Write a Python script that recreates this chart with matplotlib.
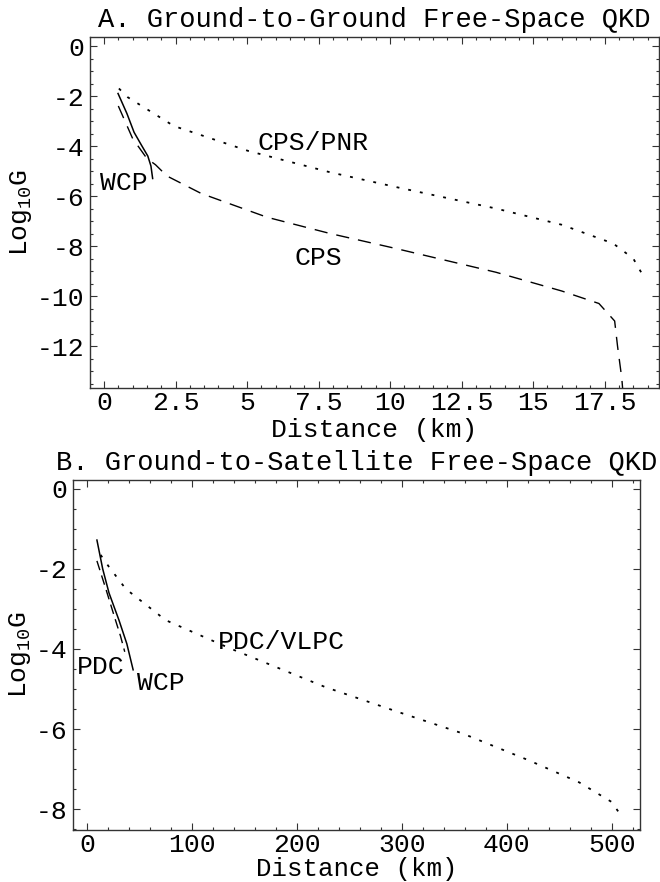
import matplotlib
matplotlib.use("Agg")
import matplotlib.pyplot as plt
from matplotlib.ticker import MultipleLocator

plt.rcParams['font.family'] = ['Liberation Mono', 'DejaVu Sans']
plt.rcParams['mathtext.fontset'] = 'custom'
plt.rcParams['mathtext.rm'] = 'Liberation Mono'
plt.rcParams['mathtext.it'] = 'Liberation Mono:italic'
plt.rcParams['axes.unicode_minus'] = False

# panel A: ground-to-ground (km, log10 G)
a_wcp_x = [0.49, 0.8, 1.05, 1.3, 1.53, 1.64, 1.7]
a_wcp_y = [-1.9, -2.7, -3.45, -3.95, -4.4, -4.8, -5.3]
a_cps_x = [0.5, 1.0, 1.5, 1.8, 2.2, 3.4, 5.7, 7.9, 10.2, 13.7, 16.0, 17.3, 17.85, 17.95, 18.1, 18.15]
a_cps_y = [-2.4, -3.7, -4.5, -4.75, -5.2, -5.9, -6.85, -7.5, -8.1, -9.05, -9.8, -10.3, -11.0, -12.0, -13.3, -14.0]
a_pnr_x = [0.52, 0.83, 2.44, 5.05, 7.9, 10.24, 13.7, 16.0, 17.8, 18.5, 18.8]
a_pnr_y = [-1.7, -2.05, -3.2, -4.2, -5.05, -5.65, -6.5, -7.15, -7.9, -8.5, -9.1]

# panel B: ground-to-satellite (km, log10 G)
b_wcp_x = [9.5, 15, 21, 30.5, 38, 44]
b_wcp_y = [-1.28, -2.0, -2.6, -3.28, -3.87, -4.52]
b_pdc_x = [9.5, 18, 26, 32, 36]
b_pdc_y = [-1.8, -2.5, -3.18, -3.68, -4.07]
b_vlpc_x = [13, 21, 37, 75, 135, 227, 294, 357, 421, 469, 500, 510]
b_vlpc_y = [-1.65, -1.95, -2.5, -3.28, -3.97, -4.95, -5.55, -6.1, -6.78, -7.33, -7.82, -8.2]

FS = 19
dashed = (0, (9.5, 6.5))
dotted = (0, (1.6, 5.0))

fig = plt.figure(figsize=(6.6, 8.82), dpi=100)


def style(ax, xmaj, xmin, ymaj, ymin):
    ax.xaxis.set_major_locator(MultipleLocator(xmaj))
    ax.xaxis.set_minor_locator(MultipleLocator(xmin))
    ax.yaxis.set_major_locator(MultipleLocator(ymaj))
    ax.yaxis.set_minor_locator(MultipleLocator(ymin))
    ax.tick_params(which="both", direction="in", top=True, right=True,
                   labelsize=FS, color="#333333", width=0.8, pad=4)
    ax.tick_params(axis="x", pad=2)
    ax.tick_params(which="major", length=5)
    ax.tick_params(which="minor", length=2.5)
    for s in ax.spines.values():
        s.set_color("#333333")
        s.set_linewidth(1.0)


# ---- A
ax1 = fig.add_axes([90/660, 1-388/882, (659-90)/660, (388-37)/882])
ax1.plot(a_wcp_x, a_wcp_y, color="black", lw=1.1)
ax1.plot(a_cps_x, a_cps_y, color="black", lw=1.0, linestyle=dashed)
ax1.plot(a_pnr_x, a_pnr_y, color="black", lw=1.3, linestyle=dotted)
ax1.set_xlim(-0.49, 19.4)
ax1.set_ylim(-13.68, 0.36)
style(ax1, 2.5, 0.5, 2, 0.5)
ax1.set_xticks([0, 2.5, 5, 7.5, 10, 12.5, 15, 17.5])
ax1.set_xticklabels(["0", "2.5", "5", "7.5", "10", "12.5", "15", "17.5"])
ax1.text(0.7, -5.5, "WCP", fontsize=FS, ha="center", va="center")
ax1.text(7.3, -3.9, "CPS/PNR", fontsize=FS, ha="center", va="center")
ax1.text(7.5, -8.48, "CPS", fontsize=FS, ha="center", va="center")
ax1.set_title("A. Ground-to-Ground Free-Space QKD", fontsize=19.5, pad=7)
ax1.set_xlabel("Distance (km)", fontsize=FS, labelpad=2)
ax1.set_ylabel("Log$_{10}$G", fontsize=FS, labelpad=2)

# ---- B
ax2 = fig.add_axes([73/660, 1-830/882, (640-73)/660, (830-480)/882])
ax2.plot(b_wcp_x, b_wcp_y, color="black", lw=1.1)
ax2.plot(b_pdc_x, b_pdc_y, color="black", lw=1.0, linestyle=(0, (7, 4)))
ax2.plot(b_vlpc_x, b_vlpc_y, color="black", lw=1.3, linestyle=dotted)
ax2.set_xlim(-13.3, 527)
ax2.set_ylim(-8.52, 0.22)
style(ax2, 100, 20, 2, 0.5)
ax2.text(13, -4.45, "PDC", fontsize=FS, ha="center", va="center")
ax2.text(70, -4.85, "WCP", fontsize=FS, ha="center", va="center")
ax2.text(185, -3.82, "PDC/VLPC", fontsize=FS, ha="center", va="center")
ax2.set_title("B. Ground-to-Satellite Free-Space QKD", fontsize=19.5, pad=7)
ax2.set_xlabel("Distance (km)", fontsize=18.5, labelpad=0)
ax2.set_ylabel("Log$_{10}$G", fontsize=FS, labelpad=2)

fig.savefig("out.png", dpi=100)
